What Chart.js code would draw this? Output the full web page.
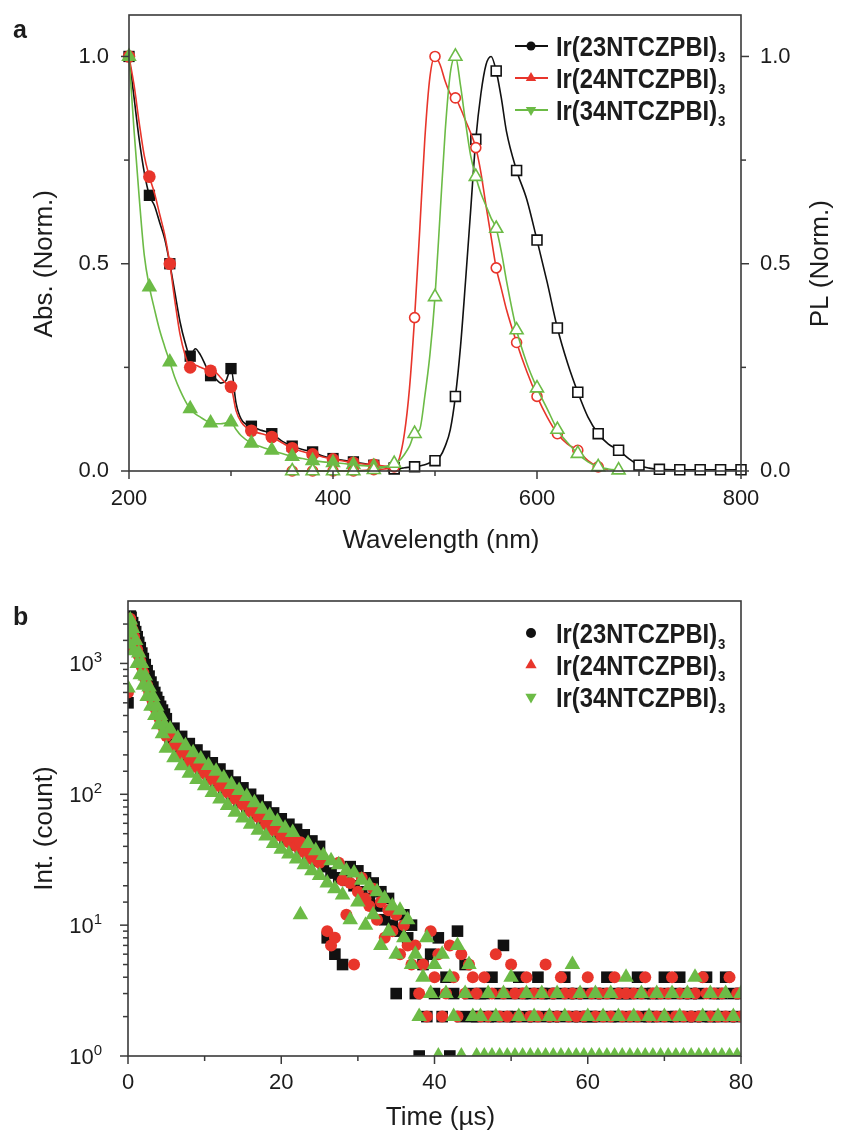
<!DOCTYPE html>
<html>
<head>
<meta charset="utf-8">
<title>Ir(NTCZPBI)3 - absorption, PL and decay</title>
<script src="https://cdn.jsdelivr.net/npm/chart.js@4/dist/chart.umd.min.js"></script>
<style>
  html, body { margin: 0; padding: 0; background: #fff; }
  #page { position: relative; width: 842px; height: 1140px; }
  canvas { position: absolute; left: 0; }
  #spectraChart { top: 0; }
  #decayChart { top: 560px; }
</style>
</head>
<body>
<div id="page">
  <canvas id="spectraChart" width="842" height="560"></canvas>
  <canvas id="decayChart" width="842" height="580"></canvas>
</div>
<script>
// ---- dados ----
const seriesNames = ['Ir(23NTCZPBI)', 'Ir(24NTCZPBI)', 'Ir(34NTCZPBI)'];
const seriesSub = '3';

// (a) absorção normalizada
const wavelengthAbs = [200, 205, 210, 215, 220, 225, 230, 235, 240, 245, 250, 255, 260, 265, 270, 275, 280, 285, 290, 295,
  300, 305, 310, 320, 330, 340, 350, 360, 370, 380, 390, 400, 410, 420, 430, 440, 450, 460];
const absIr23 = [1.0, 0.9, 0.8, 0.72, 0.665, 0.64, 0.6, 0.56, 0.5, 0.43, 0.36, 0.31, 0.277, 0.295, 0.28, 0.255, 0.23, 0.222, 0.212, 0.218,
  0.247, 0.163, 0.125, 0.108, 0.098, 0.09, 0.072, 0.06, 0.052, 0.046, 0.036, 0.03, 0.026, 0.022, 0.018, 0.014, 0.01, 0.008];
const absIr24 = [1.0, 0.93, 0.84, 0.76, 0.71, 0.67, 0.62, 0.57, 0.5, 0.41, 0.33, 0.28, 0.25, 0.255, 0.25, 0.245, 0.242, 0.238, 0.225, 0.212,
  0.203, 0.145, 0.118, 0.097, 0.09, 0.082, 0.068, 0.055, 0.047, 0.04, 0.034, 0.028, 0.024, 0.02, 0.017, 0.015, 0.012, 0.01];
const absIr34 = [1.0, 0.82, 0.66, 0.52, 0.444, 0.39, 0.34, 0.3, 0.263, 0.225, 0.195, 0.17, 0.15, 0.138, 0.13, 0.122, 0.116, 0.114, 0.114, 0.116,
  0.118, 0.1, 0.085, 0.067, 0.058, 0.05, 0.042, 0.035, 0.03, 0.025, 0.022, 0.02, 0.018, 0.015, 0.013, 0.011, 0.01, 0.01];

// (a) PL normalizada
const wavelengthPL = [360, 380, 400, 420, 440, 460, 465, 470, 475, 480, 485, 490, 495, 500, 505, 510, 515, 520, 525, 530,
  535, 540, 545, 550, 555, 560, 565, 570, 580, 590, 600, 610, 620, 630, 640, 650, 660, 670, 680, 690,
  700, 710, 720, 740, 760, 780, 800];
const plIr23 = [null, null, null, null, null, 0.005, 0.006, 0.008, 0.009, 0.01, 0.012, 0.015, 0.02, 0.025, 0.035, 0.06, 0.1, 0.18, 0.3, 0.46,
  0.63, 0.8, 0.91, 0.98, 1.0, 0.965, 0.9, 0.82, 0.725, 0.655, 0.557, 0.455, 0.345, 0.26, 0.19, 0.13, 0.09, 0.065, 0.05, 0.03,
  0.014, 0.007, 0.004, 0.003, 0.003, 0.003, 0.003];
const plIr24 = [0, 0, 0, 0, 0.003, 0.01, 0.03, 0.09, 0.2, 0.37, 0.58, 0.8, 0.95, 1.0, 0.98, 0.94, 0.91, 0.9, 0.875, 0.845,
  0.815, 0.78, 0.72, 0.64, 0.565, 0.49, 0.44, 0.39, 0.31, 0.24, 0.18, 0.13, 0.09, 0.065, 0.05, 0.025, 0.01, 0.003, null, null,
  null, null, null, null, null, null, null];
const plIr34 = [0, 0, 0, 0, 0.003, 0.018, 0.025, 0.04, 0.06, 0.09, 0.1, 0.18, 0.28, 0.42, 0.62, 0.82, 0.96, 1.0, 0.93, 0.84,
  0.76, 0.71, 0.67, 0.64, 0.61, 0.585, 0.53, 0.46, 0.34, 0.26, 0.2, 0.15, 0.1, 0.068, 0.042, 0.022, 0.01, 0.005, 0.002, null,
  null, null, null, null, null, null, null];

// (b) decaimento transiente (contagens)
const timeUs = [0, 0.1, 0.2, 0.3, 0.4, 0.6, 0.8, 1, 1.2, 1.4, 1.6, 1.8, 2, 2.25, 2.5, 2.75, 3, 3.25, 3.5, 3.75, 4, 4.25, 4.5, 4.75,
  5, 5.5, 6, 6.5, 7, 7.5, 8, 8.5, 9, 9.5,
  10, 10.5, 11, 11.5, 12, 12.5, 13, 13.5, 14, 14.5,
  15, 15.5, 16, 16.5, 17, 17.5, 18, 18.5, 19, 19.5,
  20, 20.5, 21, 21.5, 22, 22.5, 23, 23.5, 24, 24.5,
  25, 25.5, 26, 26.5, 27, 27.5, 28, 28.5, 29, 29.5,
  30, 30.5, 31, 31.5, 32, 32.5, 33, 33.5, 34, 34.5,
  35, 35.5, 36, 36.5, 37, 37.5, 38, 38.5, 39, 39.5,
  40, 40.5, 41, 41.5, 42, 42.5, 43, 43.5, 44, 44.5,
  45, 45.5, 46, 46.5, 47, 47.5, 48, 48.5, 49, 49.5,
  50, 50.5, 51, 51.5, 52, 52.5, 53, 53.5, 54, 54.5,
  55, 55.5, 56, 56.5, 57, 57.5, 58, 58.5, 59, 59.5,
  60, 60.5, 61, 61.5, 62, 62.5, 63, 63.5, 64, 64.5,
  65, 65.5, 66, 66.5, 67, 67.5, 68, 68.5, 69, 69.5,
  70, 70.5, 71, 71.5, 72, 72.5, 73, 73.5, 74, 74.5,
  75, 75.5, 76, 76.5, 77, 77.5, 78, 78.5, 79, 79.5, 80];
const decayIr23 = [500, 1300, 2150, 2300, 2250, 2050, 1900, 1750, 1600, 1450, 1320, 1200, 1090, 980, 880, 800, 720, 660, 600, 550, 510, 470, 440, 410,
  378, 256, 320, 219, 277, 192, 244, 170, 218, 152, 195, 136, 174, 122, 156, 109, 139, 97, 124, 87,
  112, 78, 100, 70, 90, 63, 80, 57, 72, 50, 65, 45, 59, 41, 54, 38, 49, 34, 44, 31,
  40, 28, 8, 25, 6, 23, 5, 22, 28, 20, 26, 18, 23, 16, 21, 14, 18, 11, 16, 10, 3, 9, 12, 8, 10,
  3, 1, 5, 2, 6, 3, 8, 2, 4, 1, 3, 9, 2, 5, 3, 2,
  2, 3, 3, 2, 4, 2, 3, 7, 2, 3, 2, 4, 3, 2, 3, 2, 4, 3, 2, 3,
  2, 3, 2, 4, 3, 2, 3, 2, 3, 2, 2, 3, 2, 3, 4, 2, 3, 2, 3, 3,
  2, 3, 4, 2, 3, 2, 3, 2, 3, 4, 2, 3, 2, 4, 3, 2, 3, 2, 3, 2,
  4, 2, 3, 2, 3, 4, 2, 3, 2, 3];
const decayIr24 = [600, 1350, 2100, 2200, 2000, 1800, 1600, 1430, 1280, 1150, 1040, 940, 850, 760, 680, 610, 550, 500, 460, 420, 390, 360, 335, 310,
  279, 291, 236, 248, 204, 217, 180, 193, 161, 172, 144, 154, 129, 138, 115, 123, 103, 110, 92, 99,
  83, 89, 74, 80, 67, 71, 59, 64, 53, 57, 48, 51, 43, 47, 40, 43, 36, 39, 32, 35,
  30, 32, 9, 7, 8, 30, 22, 12, 21, 5, 18, 23, 16, 14, 19, 11, 15, 8, 13, 9, 12, 6, 10, 7, 5,
  7, 3, 5, 2, 9, 4, 6, 2, 3, 7, 4, 2, 6, 3, 5, 4,
  3, 2, 4, 2, 3, 6, 2, 3, 2, 5, 3, 2, 3, 4, 2, 3, 2, 3, 5, 2,
  3, 2, 4, 3, 2, 3, 2, 3, 2, 4, 3, 2, 3, 2, 3, 2, 4, 3, 2, 3,
  2, 3, 2, 3, 4, 2, 3, 2, 3, 2, 3, 4, 2, 3, 2, 3, 2, 3, 2, 4,
  3, 2, 3, 2, 3, 2, 4, 2, 3, 2];
const decayIr34 = [650, 1400, 2050, 2150, 1700, 1850, 1250, 1500, 1000, 1200, 820, 1000, 680, 800, 560, 660, 470, 560, 400, 470, 340, 400, 290, 340,
  225, 315, 190, 268, 165, 235, 145, 208, 130, 186, 116, 166, 103, 150, 92, 133, 82, 119, 73, 107,
  66, 96, 59, 86, 53, 77, 48, 69, 42, 62, 38, 55, 35, 51, 32, 12, 29, 42, 26, 37,
  24, 34, 21, 31, 19, 29, 17, 26, 11, 25, 15, 22, 10, 20, 12, 18, 7, 16, 9, 14, 6, 13, 8, 11, 5,
  6, 2, 4, 8, 3, 5, 1, 6, 3, 4, 2, 7, 1, 3, 5, 2,
  1, 2, 1, 3, 1, 2, 1, 3, 1, 4, 1, 2, 1, 3, 1, 2, 1, 3, 1, 2,
  1, 3, 1, 2, 1, 5, 1, 3, 1, 2, 1, 3, 1, 2, 1, 3, 1, 2, 1, 4,
  1, 2, 1, 3, 1, 2, 1, 3, 1, 2, 1, 3, 1, 2, 1, 3, 1, 4, 1, 2,
  1, 3, 1, 2, 1, 3, 1, 2, 1, 3];

// eixos
const waveTicks = [200, 300, 400, 500, 600, 700, 800];
const waveLabels = [200, 400, 600, 800];
const normTicks = [0, 0.25, 0.5, 0.75, 1.0];
const normMajor = [0, 0.5, 1.0];
const normLabels = ['0.0', '0.5', '1.0'];
const timeTicks = [0, 10, 20, 30, 40, 50, 60, 70, 80];
const timeLabels = [0, 20, 40, 60, 80];
const countLabels = [1, 10, 100, 1000];
const countExp = ['0', '1', '2', '3'];

// ---- estilo ----
const FONT = '"Liberation Sans", Arial, Helvetica, sans-serif';
const TEXT = '#1c1c1c';
const AXIS = '#3a3a3a';
const BLACK = '#111111';
const RED = '#e8352b';
const GREEN = '#6cbb46';

Chart.defaults.font.family = FONT;
Chart.defaults.color = TEXT;

function series(xs, ys) {
    return xs.map((x, i) => ({ x: x, y: ys[i] }));
}

// marcador apenas a cada 20 nm, como no original
function every20(r) {
    return ctx => (ctx.raw && ctx.raw.y !== null && ctx.raw.x % 20 === 0) ? r : 0;
}

// zera o espaço extra que o Chart.js reserva para rótulos nas bordas
function fixedSize(prop, size) {
    return s => {
        s[prop] = size;
        s.paddingTop = 0; s.paddingBottom = 0; s.paddingLeft = 0; s.paddingRight = 0;
    };
}

function drawMarker(ctx, style, x, y, r, fill, stroke, lw) {
    ctx.beginPath();
    if (style === 'circle') {
        ctx.arc(x, y, r, 0, Math.PI * 2);
    } else if (style === 'rect') {
        const h = r * Math.SQRT1_2;
        ctx.rect(x - h, y - h, 2 * h, 2 * h);
    } else {
        const d = style === 'triangleDown' ? -1 : 1;
        ctx.moveTo(x, y - d * r);
        ctx.lineTo(x + r * 0.866, y + d * r / 2);
        ctx.lineTo(x - r * 0.866, y + d * r / 2);
        ctx.closePath();
    }
    ctx.fillStyle = fill;
    ctx.fill();
    if (stroke) {
        ctx.strokeStyle = stroke;
        ctx.lineWidth = lw || 1.5;
        ctx.stroke();
    }
}

function drawName(ctx, text, x, baseline) {
    ctx.save();
    ctx.translate(x, baseline);
    ctx.scale(0.88, 1);
    ctx.fillStyle = TEXT;
    ctx.textAlign = 'left';
    ctx.textBaseline = 'alphabetic';
    ctx.font = 'bold 27px ' + FONT;
    ctx.fillText(text, 0, 0);
    const w = ctx.measureText(text).width;
    ctx.font = 'bold 15px ' + FONT;
    ctx.fillText(seriesSub, w + 1, 6);
    ctx.restore();
}

function isPow10(v) {
    const l = Math.log10(v);
    return Math.abs(l - Math.round(l)) < 1e-9;
}

// moldura, marcas de escala, títulos, legenda e letra do painel
function makeFrame(cfg) {
    return {
        id: 'frame' + cfg.panel,
        afterDraw(chart) {
            const ctx = chart.ctx;
            const a = chart.chartArea;
            ctx.save();
            ctx.strokeStyle = AXIS;
            ctx.lineWidth = 1.5;
            cfg.marks.forEach(m => {
                const s = chart.scales[m.axis];
                s.ticks.forEach(t => {
                    if (t.value > s.max + 1e-9 || (m.skipMax && t.value >= s.max)) return;
                    const p = s.getPixelForValue(t.value);
                    const len = m.isMajor(t.value) ? 8 : 5;
                    ctx.beginPath();
                    if (m.side === 'bottom') {
                        ctx.moveTo(p, a.bottom); ctx.lineTo(p, a.bottom + len);
                    } else if (m.side === 'left') {
                        ctx.moveTo(a.left, p); ctx.lineTo(a.left - len, p);
                    } else {
                        ctx.moveTo(a.right, p); ctx.lineTo(a.right + len, p);
                    }
                    ctx.stroke();
                });
            });
            ctx.lineWidth = 1.6;
            ctx.strokeRect(a.left, a.top, a.right - a.left, a.bottom - a.top);

            if (cfg.logLabels) {
                const s = chart.scales.y;
                ctx.fillStyle = TEXT;
                countLabels.forEach((v, i) => {
                    const p = s.getPixelForValue(v);
                    ctx.font = '15px ' + FONT;
                    ctx.textAlign = 'right';
                    ctx.textBaseline = 'alphabetic';
                    const right = a.left - 26;
                    ctx.fillText(countExp[i], right, p - 1);
                    const sw = ctx.measureText(countExp[i]).width;
                    ctx.font = '22px ' + FONT;
                    ctx.textBaseline = 'middle';
                    ctx.fillText('10', right - sw, p + 2);
                });
            }

            ctx.fillStyle = TEXT;
            ctx.font = '26px ' + FONT;
            ctx.textAlign = 'center';
            ctx.textBaseline = 'middle';
            cfg.titles.forEach(tt => {
                const pos = tt.at(chart, a);
                ctx.save();
                ctx.translate(pos.x, pos.y);
                if (tt.vertical) ctx.rotate(-Math.PI / 2);
                ctx.fillText(tt.text, 0, 0);
                ctx.restore();
            });

            cfg.legend.rows.forEach((row, i) => {
                const y = cfg.legend.y0 + i * cfg.legend.dy;
                const mx = cfg.legend.x;
                if (cfg.legend.lines) {
                    ctx.strokeStyle = row.color;
                    ctx.lineWidth = 1.8;
                    ctx.beginPath();
                    ctx.moveTo(mx - 16, y);
                    ctx.lineTo(mx + 17, y);
                    ctx.stroke();
                }
                drawMarker(ctx, row.style, mx, y, row.r, row.color);
                drawName(ctx, seriesNames[i], mx + 25, y + 10);
            });

            ctx.fillStyle = TEXT;
            ctx.font = 'bold 25px ' + FONT;
            ctx.textAlign = 'left';
            ctx.textBaseline = 'alphabetic';
            ctx.fillText(cfg.panel, 13, cfg.panelY);
            ctx.restore();
        }
    };
}

function lineSet(xs, ys, color, style, r, open, yAxis, order) {
    return {
        data: series(xs, ys),
        yAxisID: yAxis,
        borderColor: color,
        backgroundColor: color,
        borderWidth: 1.6,
        cubicInterpolationMode: 'monotone',
        pointStyle: style,
        pointRadius: every20(r),
        pointHoverRadius: every20(r),
        pointBackgroundColor: open ? '#ffffff' : color,
        pointBorderColor: color,
        pointBorderWidth: open ? 1.6 : 0,
        order: order,
        clip: false
    };
}

const tickFont = { size: 22 };

// ---- (a) espectros ----
new Chart(document.getElementById('spectraChart'), {
    type: 'line',
    data: {
        datasets: [
            lineSet(wavelengthAbs, absIr23, BLACK, 'rect', 8, false, 'y', 6),
            lineSet(wavelengthAbs, absIr24, RED, 'circle', 6.3, false, 'y', 5),
            lineSet(wavelengthAbs, absIr34, GREEN, 'triangle', 9, false, 'y', 4),
            lineSet(wavelengthPL, plIr23, BLACK, 'rect', 7, true, 'y2', 3),
            lineSet(wavelengthPL, plIr24, RED, 'circle', 5, true, 'y2', 2),
            lineSet(wavelengthPL, plIr34, GREEN, 'triangle', 7.5, true, 'y2', 1)
        ]
    },
    options: {
        responsive: false,
        animation: false,
        devicePixelRatio: 1,
        layout: { padding: { top: 15, left: 0, right: 0, bottom: 0 } },
        plugins: { legend: { display: false }, tooltip: { enabled: false } },
        scales: {
            x: {
                type: 'linear', min: 200, max: 800,
                grid: { display: false, drawTicks: false }, border: { display: false },
                afterBuildTicks: s => { s.ticks = waveTicks.map(v => ({ value: v })); },
                afterFit: fixedSize('height', 89),
                ticks: { padding: 15, autoSkip: false, maxRotation: 0, font: tickFont,
                    callback: v => waveLabels.includes(v) ? String(v) : '' }
            },
            y: {
                type: 'linear', position: 'left', min: 0, max: 1.1,
                grid: { display: false, drawTicks: false }, border: { display: false },
                afterBuildTicks: s => { s.ticks = normTicks.map(v => ({ value: v })); },
                afterFit: fixedSize('width', 129),
                ticks: { padding: 20, autoSkip: false, font: tickFont,
                    callback: v => { const i = normMajor.indexOf(v); return i >= 0 ? normLabels[i] : ''; } }
            },
            y2: {
                type: 'linear', position: 'right', min: 0, max: 1.1,
                grid: { display: false, drawTicks: false }, border: { display: false },
                afterBuildTicks: s => { s.ticks = normTicks.map(v => ({ value: v })); },
                afterFit: fixedSize('width', 101),
                ticks: { padding: 19, autoSkip: false, font: tickFont,
                    callback: v => { const i = normMajor.indexOf(v); return i >= 0 ? normLabels[i] : ''; } }
            }
        }
    },
    plugins: [makeFrame({
        panel: 'a',
        panelY: 38,
        marks: [
            { axis: 'x', side: 'bottom', isMajor: v => waveLabels.includes(v) },
            { axis: 'y', side: 'left', isMajor: v => normMajor.includes(v) },
            { axis: 'y2', side: 'right', isMajor: v => normMajor.includes(v) }
        ],
        titles: [
            { text: 'Abs. (Norm.)', vertical: true, at: (c, a) => ({ x: 45, y: c.scales.y.getPixelForValue(0.5) }) },
            { text: 'PL (Norm.)', vertical: true, at: (c, a) => ({ x: a.right + 80, y: c.scales.y2.getPixelForValue(0.5) }) },
            { text: 'Wavelength (nm)', at: (c, a) => ({ x: (a.left + a.right) / 2 + 6, y: a.bottom + 70 }) }
        ],
        legend: {
            x: 531, y0: 46, dy: 32, lines: true,
            rows: [
                { color: BLACK, style: 'circle', r: 4.5 },
                { color: RED, style: 'triangle', r: 6 },
                { color: GREEN, style: 'triangleDown', r: 6 }
            ]
        }
    })]
});

// ---- (b) decaimento ----
new Chart(document.getElementById('decayChart'), {
    type: 'scatter',
    data: {
        datasets: [
            { data: series(timeUs, decayIr23), pointStyle: 'rect', pointRadius: 8.2, pointHoverRadius: 8.2,
              backgroundColor: BLACK, borderColor: BLACK, pointBorderWidth: 0, order: 3 },
            { data: series(timeUs, decayIr24), pointStyle: 'circle', pointRadius: 6, pointHoverRadius: 6,
              backgroundColor: RED, borderColor: RED, pointBorderWidth: 0, order: 2 },
            { data: series(timeUs, decayIr34), pointStyle: 'triangle', pointRadius: 9, pointHoverRadius: 9,
              backgroundColor: GREEN, borderColor: GREEN, pointBorderWidth: 0, order: 1 }
        ]
    },
    options: {
        responsive: false,
        animation: false,
        devicePixelRatio: 1,
        layout: { padding: { top: 41, left: 0, right: 101, bottom: 0 } },
        plugins: { legend: { display: false }, tooltip: { enabled: false } },
        scales: {
            x: {
                type: 'linear', min: 0, max: 80,
                grid: { display: false, drawTicks: false }, border: { display: false },
                afterBuildTicks: s => { s.ticks = timeTicks.map(v => ({ value: v })); },
                afterFit: fixedSize('height', 84),
                ticks: { padding: 14, autoSkip: false, maxRotation: 0, font: tickFont,
                    callback: v => timeLabels.includes(v) ? String(v) : '' }
            },
            y: {
                type: 'logarithmic', position: 'left', min: 1, max: 3000,
                grid: { display: false, drawTicks: false }, border: { display: false },
                afterFit: fixedSize('width', 128),
                ticks: { display: false }
            }
        }
    },
    plugins: [makeFrame({
        panel: 'b',
        panelY: 65,
        logLabels: true,
        marks: [
            { axis: 'x', side: 'bottom', isMajor: v => timeLabels.includes(v) },
            { axis: 'y', side: 'left', isMajor: v => isPow10(v), skipMax: true }
        ],
        titles: [
            { text: 'Int. (count)', vertical: true, at: (c, a) => ({ x: 45, y: (a.top + a.bottom) / 2 }) },
            { text: 'Time (\u00b5s)', at: (c, a) => ({ x: (a.left + a.right) / 2 + 6, y: a.bottom + 62 }) }
        ],
        legend: {
            x: 531, y0: 73, dy: 32, lines: false,
            rows: [
                { color: BLACK, style: 'circle', r: 5 },
                { color: RED, style: 'triangle', r: 6.5 },
                { color: GREEN, style: 'triangleDown', r: 6.5 }
            ]
        }
    })]
});
</script>
</body>
</html>
